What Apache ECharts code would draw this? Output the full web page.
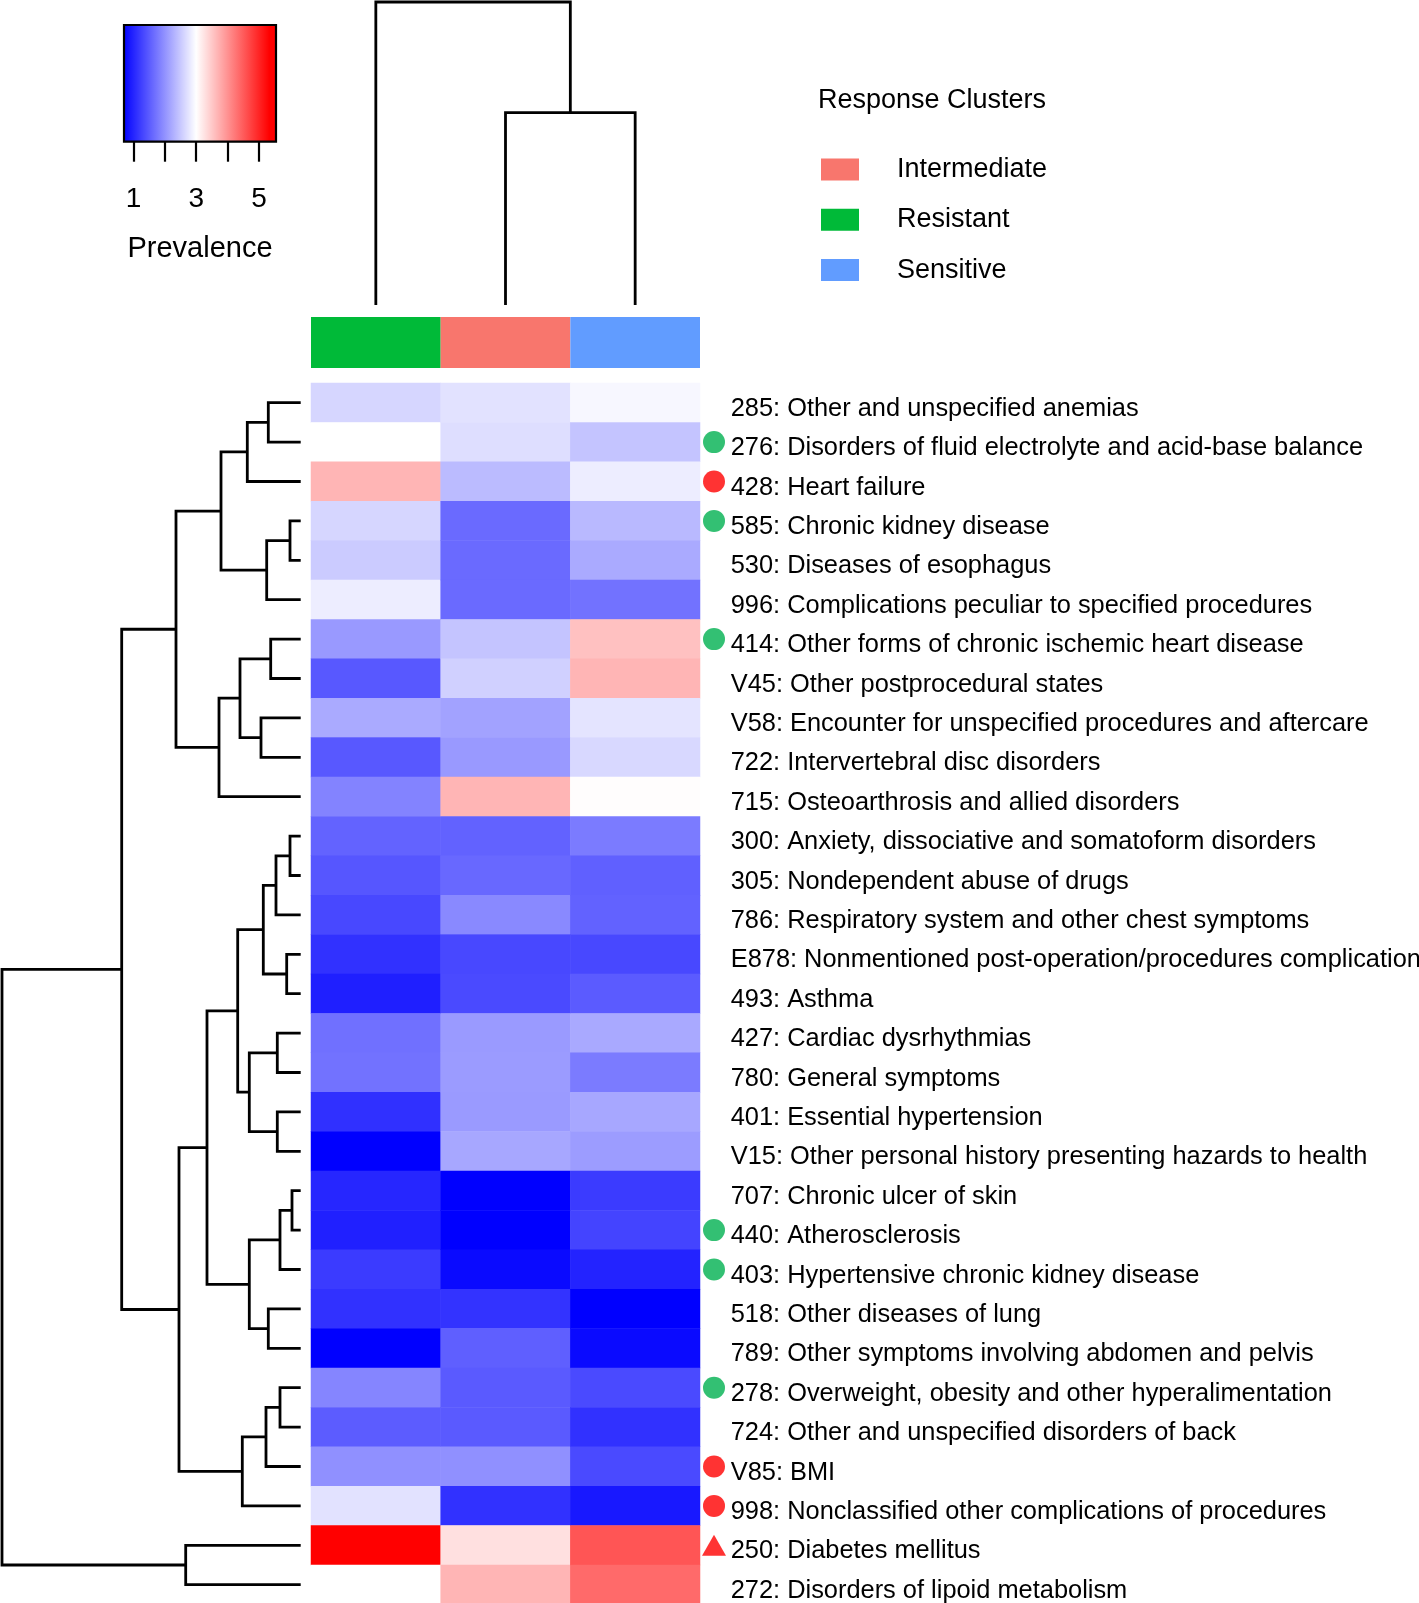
<!DOCTYPE html>
<html><head><meta charset="utf-8">
<script src="https://cdn.jsdelivr.net/npm/echarts@6/dist/echarts.min.js"></script>
<style>html,body{margin:0;padding:0;background:#fff}#c{width:1419px;height:1603px}</style>
</head><body><div id="c"></div>
<script>
// ---------------- DATA ----------------
const rowLabels = [
  '285: Other and unspecified anemias',
  '276: Disorders of fluid electrolyte and acid-base balance',
  '428: Heart failure',
  '585: Chronic kidney disease',
  '530: Diseases of esophagus',
  '996: Complications peculiar to specified procedures',
  '414: Other forms of chronic ischemic heart disease',
  'V45: Other postprocedural states',
  'V58: Encounter for unspecified procedures and aftercare',
  '722: Intervertebral disc disorders',
  '715: Osteoarthrosis and allied disorders',
  '300: Anxiety, dissociative and somatoform disorders',
  '305: Nondependent abuse of drugs',
  '786: Respiratory system and other chest symptoms',
  'E878: Nonmentioned post-operation/procedures complication',
  '493: Asthma',
  '427: Cardiac dysrhythmias',
  '780: General symptoms',
  '401: Essential hypertension',
  'V15: Other personal history presenting hazards to health',
  '707: Chronic ulcer of skin',
  '440: Atherosclerosis',
  '403: Hypertensive chronic kidney disease',
  '518: Other diseases of lung',
  '789: Other symptoms involving abdomen and pelvis',
  '278: Overweight, obesity and other hyperalimentation',
  '724: Other and unspecified disorders of back',
  'V85: BMI',
  '998: Nonclassified other complications of procedures',
  '250: Diabetes mellitus',
  '272: Disorders of lipoid metabolism'
];
const clusters = ['Resistant', 'Intermediate', 'Sensitive'];
const clusterColors = ['#00BA38', '#F8766D', '#619CFF'];
const legendOrder = ['Intermediate', 'Resistant', 'Sensitive'];

const resistantVals = [2.63,3.00,3.67,2.63,2.53,2.84,2.08,1.49,2.23,1.49,1.88,1.59,1.48,1.35,1.14,0.98,1.71,1.73,1.13,0.70,1.04,0.99,1.23,1.14,0.70,1.90,1.53,2.00,2.74,5.30,3.00];
const intermediateVals = [2.74,2.70,2.39,1.66,1.66,1.66,2.47,2.58,2.16,2.08,3.67,1.58,1.64,1.94,1.35,1.37,2.09,2.10,2.09,2.21,0.70,0.70,0.79,1.16,1.56,1.51,1.51,2.00,1.14,3.28,3.67];
const sensitiveVals = [2.93,2.47,2.84,2.37,2.23,1.73,3.56,3.67,2.76,2.65,3.02,1.81,1.57,1.58,1.35,1.52,2.22,1.81,2.21,2.11,1.23,1.31,1.02,0.70,0.79,1.37,1.14,1.37,0.92,4.53,4.34];

const greenCircleRows = [1, 3, 6, 21, 22, 25];
const redCircleRows = [2, 27, 28];
const redTriangleRows = [29];

// hierarchical merges: [a, b, height]; negative = leaf (1-based), positive = earlier merge
const rowMerges = [
  [-1,-2,32.4],[1,-3,53.4],[-4,-5,10.7],[3,-6,34],[2,4,79.7],
  [-7,-8,30],[-9,-10,39.7],[6,7,60.7],[8,-11,81.7],[5,9,124.7],
  [-12,-13,10.7],[11,-14,24.7],[-15,-16,14],[12,13,37.4],
  [-17,-18,23.4],[-19,-20,23.4],[15,16,51.4],[14,17,63],
  [-21,-22,8.7],[19,-23,20.7],[-24,-25,32.4],[20,21,51.4],[18,22,93.7],
  [-26,-27,20.7],[24,-28,34.7],[25,-29,58.4],[23,26,121.7],
  [10,27,179],[-30,-31,115],[28,29,298.7]
];
const colMerges = [[-2,-3,192.3],[-1,1,303]];

const keyMin = 0.7, keyMid = 3, keyMax = 5.3, keyAxisMax = 5.54;
const keyTicks = [1,2,3,4,5];
const keyLabels = [1,3,5];

// ---------------- BUILD ----------------
function dendroSegments(merges){
  const pos = [], hgt = [], segs = [];
  const get = id => id < 0 ? [-id - 1, 0] : [pos[id - 1], hgt[id - 1]];
  merges.forEach(([a, b, h]) => {
    const [pa, ha] = get(a), [pb, hb] = get(b);
    segs.push([pa, ha, pb, hb, h]);
    pos.push((pa + pb) / 2); hgt.push(h);
  });
  return segs;
}
const rowSegs = dendroSegments(rowMerges);
const colSegs = dendroSegments(colMerges);

const colVals = [resistantVals, intermediateVals, sensitiveVals];
const heatData = [];
colVals.forEach((arr, c) => arr.forEach((v, r) => heatData.push([c, r, v])));

const markerData = [];
greenCircleRows.forEach(r => markerData.push({value:[14, r], symbol:'circle', symbolSize:22, itemStyle:{color:'#00b050'}}));
redCircleRows.forEach(r => markerData.push({value:[14, r], symbol:'circle', symbolSize:22, itemStyle:{color:'#ff0000'}}));
redTriangleRows.forEach(r => markerData.push({value:[14, r], symbol:'triangle', symbolSize:[24,21], itemStyle:{color:'#ff0000'}}));

const FONT = 'Liberation Sans, Arial, Helvetica, sans-serif';
const LW = 2.8;
const nRows = rowLabels.length;
const rowH = 39.4;
const hmTop = 383, hmLeft = 311, hmW = 389, hmH = rowH * nRows;

const hide = {show:false};
const hiddenAxis = (o) => Object.assign({axisLine:hide, axisTick:hide, axisLabel:hide, splitLine:hide}, o);
const mkGrid = (o) => Object.assign({containLabel:false, outerBoundsMode:'none'}, o);

const series = [];
// 0: heatmap
series.push({
  type:'heatmap', xAxisIndex:0, yAxisIndex:0, data:heatData,
  itemStyle:{borderWidth:0}, emphasis:{disabled:true}, progressive:0
});
// annotation bar (one series per cluster)
clusters.forEach((name, i) => {
  series.push({
    type:'custom', name:name, xAxisIndex:1, yAxisIndex:1, data:[[i]],
    itemStyle:{color:clusterColors[i]},
    renderItem:(params, api) => {
      const x = api.value(0);
      const a = api.coord([x - 0.5, 1]), b = api.coord([x + 0.5, 0]);
      return {type:'rect', shape:{x:a[0], y:a[1], width:b[0]-a[0], height:b[1]-a[1]}, style:{fill:clusterColors[i]}};
    }
  });
});
// row dendrogram
series.push({
  type:'custom', xAxisIndex:2, yAxisIndex:2, data:rowSegs, silent:true,
  renderItem:(params, api) => {
    const pa=api.value(0), ha=api.value(1), pb=api.value(2), hb=api.value(3), h=api.value(4);
    return {type:'polyline', shape:{points:[api.coord([ha,pa]), api.coord([h,pa]), api.coord([h,pb]), api.coord([hb,pb])]},
      style:{stroke:'#000', lineWidth:LW, fill:'none'}};
  }
});
// column dendrogram
series.push({
  type:'custom', xAxisIndex:3, yAxisIndex:3, data:colSegs, silent:true,
  renderItem:(params, api) => {
    const pa=api.value(0), ha=api.value(1), pb=api.value(2), hb=api.value(3), h=api.value(4);
    return {type:'polyline', shape:{points:[api.coord([pa,ha]), api.coord([pa,h]), api.coord([pb,h]), api.coord([pb,hb])]},
      style:{stroke:'#000', lineWidth:LW, fill:'none'}};
  }
});
// color key
const span = keyAxisMax - keyMin;
series.push({
  type:'custom', xAxisIndex:4, yAxisIndex:4, data:[[keyMin, keyAxisMax]], silent:true,
  renderItem:(params, api) => {
    const a = api.coord([api.value(0), 1]), b = api.coord([api.value(1), 0]);
    return {type:'rect', shape:{x:a[0], y:a[1], width:b[0]-a[0], height:b[1]-a[1]},
      style:{stroke:'#000', lineWidth:2.2,
        fill:new echarts.graphic.LinearGradient(0,0,1,0,[
          {offset:0, color:'#0000ff'},
          {offset:(keyMid-keyMin)/span, color:'#ffffff'},
          {offset:(keyMax-keyMin)/span, color:'#ff0000'},
          {offset:1, color:'#ff0000'}])}};
  }
});
// markers
series.push({type:'scatter', xAxisIndex:5, yAxisIndex:5, data:markerData, silent:true});

const option = {
  animation:false,
  backgroundColor:'#ffffff',
  textStyle:{fontFamily:FONT},
  title:{text:'Response Clusters', left:818, top:87, padding:0,
    textStyle:{fontSize:27, fontWeight:'normal', color:'#000', fontFamily:FONT}},
  legend:{data:legendOrder, orient:'vertical', left:821, top:156, padding:0,
    itemWidth:38, itemHeight:22, itemGap:23.3, icon:'rect', selectedMode:false,
    textStyle:{fontSize:27, color:'#000', fontFamily:FONT, padding:[0,0,0,33]}},
  visualMap:{type:'continuous', show:false, min:keyMin, max:keyMax, dimension:2, seriesIndex:0,
    inRange:{color:['#0000ff','#ffffff','#ff0000']}},
  grid:[
    mkGrid({left:hmLeft, top:hmTop, width:hmW, height:hmH}),          // 0 heatmap
    mkGrid({left:hmLeft, top:317, width:hmW, height:51}),              // 1 annotation
    mkGrid({left:2, top:hmTop, width:298.7, height:hmH}),              // 2 row dendro
    mkGrid({left:hmLeft, top:2, width:hmW, height:303}),               // 3 col dendro
    mkGrid({left:124, top:25, width:152, height:116.7}),               // 4 key
    mkGrid({left:700, top:hmTop, width:30, height:hmH})                // 5 markers
  ],
  xAxis:[
    hiddenAxis({gridIndex:0, type:'category', data:clusters}),
    hiddenAxis({gridIndex:1, type:'value', min:-0.5, max:2.5}),
    hiddenAxis({gridIndex:2, type:'value', min:0, max:298.7, inverse:true}),
    hiddenAxis({gridIndex:3, type:'value', min:-0.5, max:2.5}),
    {gridIndex:4, type:'value', min:keyMin, max:keyAxisMax, position:'bottom',
      axisLine:hide, splitLine:hide,
      axisTick:{show:true, customValues:keyTicks, length:20, lineStyle:{color:'#000', width:2.2}},
      axisLabel:{show:true, customValues:keyLabels, fontSize:28, color:'#000', margin:44, fontFamily:FONT},
      name:'Prevalence', nameLocation:'middle', nameGap:93,
      nameTextStyle:{fontSize:29, color:'#000', fontFamily:FONT}},
    hiddenAxis({gridIndex:5, type:'value', min:0, max:30})
  ],
  yAxis:[
    {gridIndex:0, type:'category', data:rowLabels, inverse:true, position:'right',
      axisLine:hide, axisTick:hide, splitLine:hide,
      axisLabel:{show:true, interval:0, fontSize:25.4, color:'#000', margin:30.7, fontFamily:FONT,
        verticalAlign:'top', lineHeight:12}},
    hiddenAxis({gridIndex:1, type:'value', min:0, max:1}),
    hiddenAxis({gridIndex:2, type:'value', min:-0.5, max:nRows-0.5, inverse:true}),
    hiddenAxis({gridIndex:3, type:'value', min:0, max:303}),
    hiddenAxis({gridIndex:4, type:'value', min:0, max:1}),
    hiddenAxis({gridIndex:5, type:'value', min:-0.5, max:nRows-0.5, inverse:true})
  ],
  series:series
};
const chart = echarts.init(document.getElementById('c'), null, {renderer:'canvas'});
chart.setOption(option);
</script>
</body></html>
